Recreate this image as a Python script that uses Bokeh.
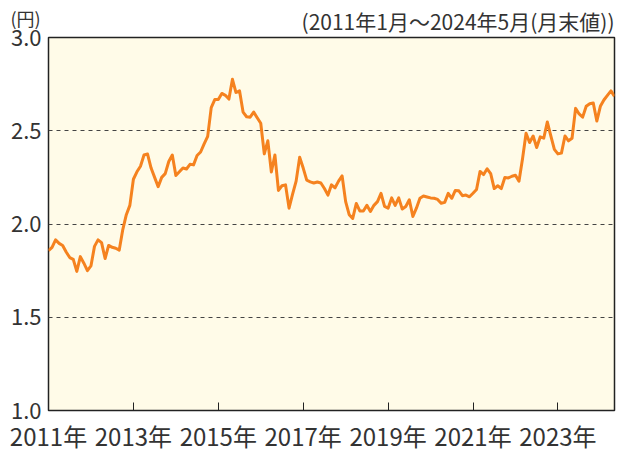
from bokeh.plotting import figure
from bokeh.models import FixedTicker, Range1d, Title
from bokeh.embed import file_html
from bokeh.resources import INLINE

# Monthly end values, 2011-01 .. 2024-05 (円)
values = [
    1.857, 1.875, 1.915, 1.896, 1.885, 1.85, 1.82, 1.81, 1.746, 1.825, 1.79, 1.75,
    1.775, 1.88, 1.915, 1.90, 1.815, 1.885, 1.875, 1.87, 1.86, 1.97, 2.05, 2.10,
    2.24, 2.28, 2.31, 2.37, 2.375, 2.30, 2.25, 2.20, 2.25, 2.27, 2.335, 2.37,
    2.26, 2.28, 2.30, 2.295, 2.32, 2.317, 2.367, 2.386, 2.43, 2.47, 2.624, 2.667,
    2.667, 2.70, 2.69, 2.67, 2.776, 2.705, 2.714, 2.60, 2.575, 2.573, 2.60, 2.57,
    2.54, 2.376, 2.446, 2.279, 2.37, 2.18, 2.205, 2.21, 2.085, 2.16, 2.23, 2.358,
    2.30, 2.235, 2.226, 2.22, 2.225, 2.22, 2.19, 2.155, 2.21, 2.194, 2.23, 2.258,
    2.12, 2.05, 2.03, 2.11, 2.07, 2.07, 2.10, 2.067, 2.10, 2.12, 2.164, 2.094,
    2.085, 2.14, 2.10, 2.14, 2.08, 2.094, 2.13, 2.04, 2.085, 2.138, 2.15, 2.145,
    2.14, 2.138, 2.132, 2.111, 2.116, 2.164, 2.138, 2.18, 2.178, 2.152, 2.155, 2.146,
    2.165, 2.185, 2.282, 2.265, 2.296, 2.27, 2.19, 2.205, 2.19, 2.249, 2.247, 2.256,
    2.261, 2.229, 2.35, 2.487, 2.437, 2.472, 2.41, 2.467, 2.46, 2.547, 2.472, 2.40,
    2.376, 2.38, 2.472, 2.446, 2.46, 2.62, 2.59, 2.573, 2.631, 2.645, 2.649, 2.552,
    2.631, 2.665, 2.69, 2.714, 2.684,
]
start_year = 2011
tick_years = [2011, 2013, 2015, 2017, 2019, 2021, 2023]
tick_labels = ["2011年", "2013年", "2015年", "2017年", "2019年", "2021年", "2023年"]
y_ticks = [1.0, 1.5, 2.0, 2.5, 3.0]
y_tick_labels = ["1.0", "1.5", "2.0", "2.5", "3.0"]
grid_values = [1.5, 2.0, 2.5]
unit_text = "(円)"
period_text = "(2011年1月～2024年5月(月末値))"

months = list(range(len(values)))
tick_pos = [(y - start_year) * 12 for y in tick_years]

FONT = "Noto Sans CJK JP"
TXT = "#333333"

p = figure(width=618, height=455, output_backend="svg", toolbar_location=None,
           x_range=Range1d(0, len(values) - 1), y_range=Range1d(1.0, 3.0),
           min_border_left=48, min_border_right=4, min_border_top=37, min_border_bottom=40)

p.background_fill_color = "#FFFBE8"
p.border_fill_color = "white"
p.outline_line_color = "#222222"
p.outline_line_width = 1.5

p.line(months, values, line_color="#F5821F", line_width=3, line_join="round")

# axes
p.xaxis.ticker = FixedTicker(ticks=tick_pos)
p.xaxis.major_label_overrides = {pos: lab for pos, lab in zip(tick_pos, tick_labels)}
p.xaxis.axis_line_color = None
p.xaxis.major_tick_in = 8
p.xaxis.major_tick_out = 0
p.xaxis.major_tick_line_color = "#222222"
p.xaxis.minor_tick_line_color = None
p.xaxis.major_label_text_font = FONT
p.xaxis.major_label_text_font_size = "24px"
p.xaxis.major_label_text_color = TXT
p.xaxis.major_label_standoff = 7

p.yaxis.ticker = FixedTicker(ticks=y_ticks)
p.yaxis.major_label_overrides = {v: s for v, s in zip(y_ticks, y_tick_labels)}
p.yaxis.axis_line_color = None
p.yaxis.major_tick_in = 0
p.yaxis.major_tick_out = 0
p.yaxis.minor_tick_line_color = None
p.yaxis.major_label_text_font = FONT
p.yaxis.major_label_text_font_size = "22px"
p.yaxis.major_label_text_color = TXT
p.yaxis.major_label_standoff = 7

p.xgrid.visible = False
p.ygrid.ticker = FixedTicker(ticks=grid_values)
p.ygrid.grid_line_color = "#444444"
p.ygrid.grid_line_dash = "4 4"
p.ygrid.grid_line_width = 1

p.add_layout(Title(text=period_text, align="right", text_font=FONT, text_font_size="21px",
                   text_font_style="normal", text_color=TXT, standoff=4, offset=0), "above")
p.add_layout(Title(text=unit_text, align="left", text_font=FONT, text_font_size="18px",
                   text_font_style="normal", text_color=TXT, standoff=-58, offset=-38), "above")

open("out.html", "w").write(file_html(p, INLINE))
